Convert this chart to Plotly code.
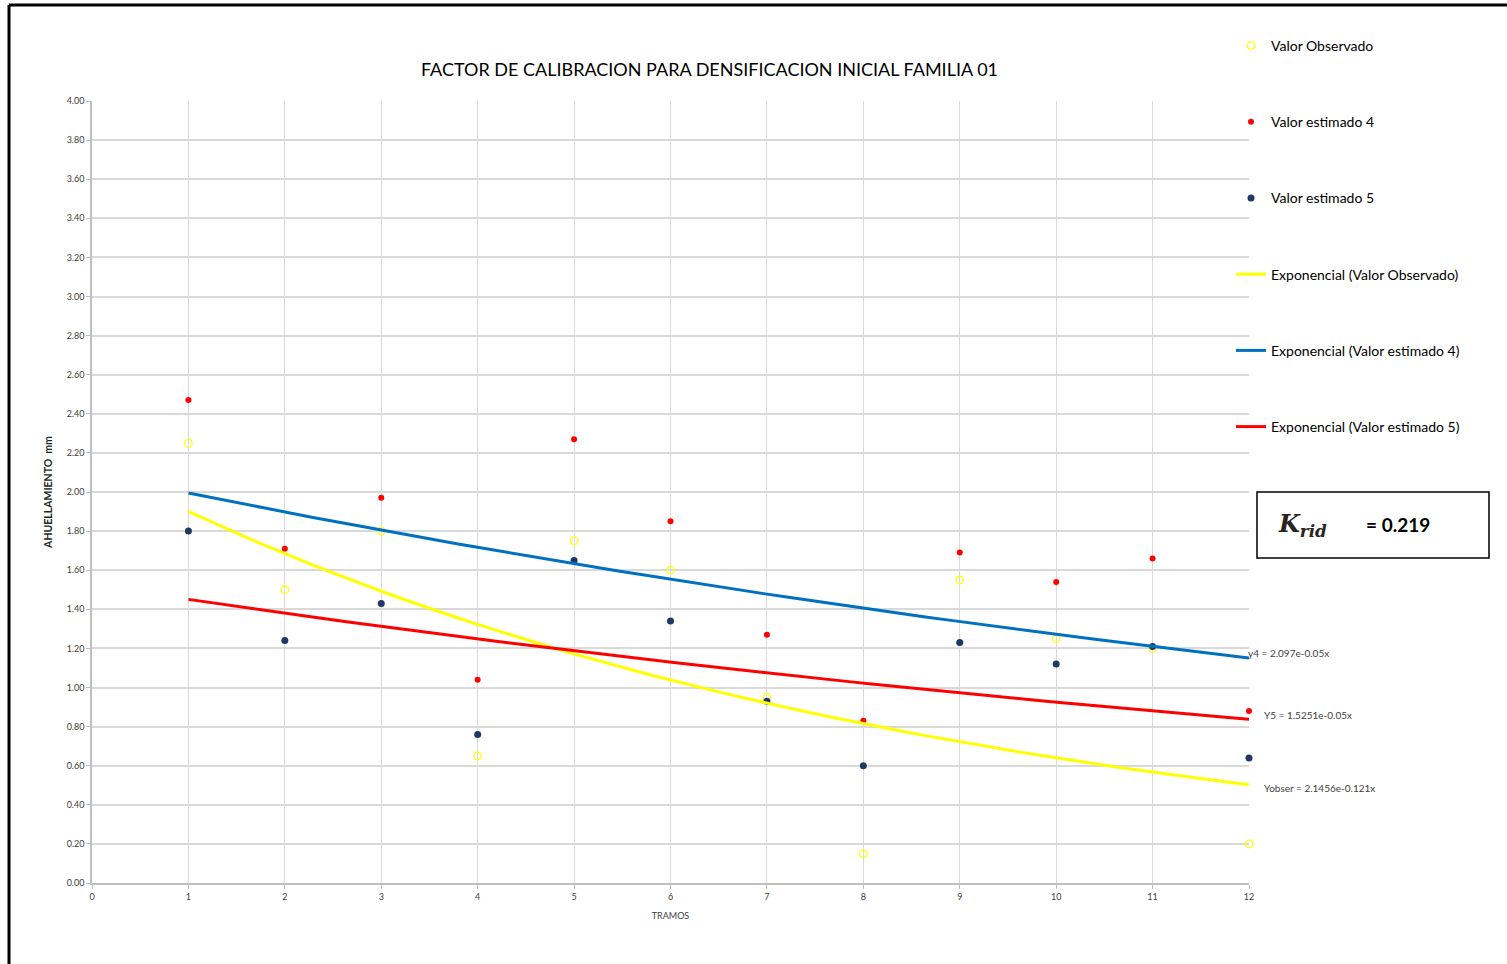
import numpy as np
import plotly.graph_objects as go

# Tramos (road sections)
tramos = [1, 2, 3, 4, 5, 6, 7, 8, 9, 10, 11, 12]

# Rutting values (mm) per section
valor_observado = [2.25, 1.50, 1.80, 0.65, 1.75, 1.60, 0.95, 0.15, 1.55, 1.25, 1.20, 0.20]
valor_estimado_4 = [2.47, 1.71, 1.97, 1.04, 2.27, 1.85, 1.27, 0.83, 1.69, 1.54, 1.66, 0.88]
valor_estimado_5 = [1.80, 1.24, 1.43, 0.76, 1.65, 1.34, 0.93, 0.60, 1.23, 1.12, 1.21, 0.64]

# Exponential trend coefficients  y = a * exp(b * x)
fit_names = ["Exponencial (Valor Observado)", "Exponencial (Valor estimado 4)", "Exponencial (Valor estimado 5)"]
fit_a = [2.1456, 2.097, 1.5251]
fit_b = [-0.121, -0.05, -0.05]
fit_colors = ["#ffff00", "#0070c0", "#ff0000"]
fit_labels = ["Yobser = 2.1456e-0.121x", "y4 = 2.097e-0.05x", "Y5 = 1.5251e-0.05x"]

k_rid = 0.219

FONT = "Lato"

# plot area in pixels
PL, PR, PT, PB = 92, 1249, 101, 883


def px(x):
    return (x - PL) / (PR - PL)


def py(y):
    return (PB - y) / (PB - PT)


fig = go.Figure()

fig.add_trace(go.Scatter(
    x=tramos, y=valor_observado, mode="markers", name="Valor Observado",
    legendgroup="g1", cliponaxis=False,
    marker=dict(symbol="circle-open", size=7.5, color="#ffff00", line=dict(width=1.3, color="#ffff00")),
))
fig.add_trace(go.Scatter(
    x=tramos, y=valor_estimado_4, mode="markers", name="Valor estimado 4",
    legendgroup="g2", cliponaxis=False,
    marker=dict(symbol="circle", size=6, color="#ff0000"),
))
fig.add_trace(go.Scatter(
    x=tramos, y=valor_estimado_5, mode="markers", name="Valor estimado 5",
    legendgroup="g3", cliponaxis=False,
    marker=dict(symbol="circle", size=7, color="#1f3864"),
))

xs = np.linspace(min(tramos), max(tramos), 60)
for i, (name, a, b, col) in enumerate(zip(fit_names, fit_a, fit_b, fit_colors)):
    fig.add_trace(go.Scatter(
        x=xs, y=a * np.exp(b * xs), mode="lines", name=name,
        legendgroup=f"f{i}", cliponaxis=False,
        line=dict(color=col, width=3),
        hoverinfo="skip",
    ))

# Equation labels at the right end of each trend line
label_pos = {"y4 = 2.097e-0.05x": (1246, 653),
             "Y5 = 1.5251e-0.05x": (1262, 715),
             "Yobser = 2.1456e-0.121x": (1262, 788)}
for txt in fit_labels:
    lx, ly = label_pos[txt]
    fig.add_annotation(x=px(lx), y=py(ly), xref="paper", yref="paper", text=txt, showarrow=False,
                       xanchor="left", yanchor="middle",
                       font=dict(family=FONT, size=10, color="#404040"))

# K_rid box
fig.add_shape(type="rect", xref="paper", yref="paper",
              x0=px(1257), x1=px(1489), y0=py(558), y1=py(492),
              line=dict(color="#000000", width=1.5), fillcolor="white")
fig.add_annotation(xref="paper", yref="paper", x=px(1276), y=py(525),
                   xanchor="left", yanchor="middle", showarrow=False,
                   text="<b><i>K</i></b><sub><b><i>rid</i></b></sub>",
                   font=dict(family="DejaVu Serif", size=24, color="#2a2420"))
fig.add_annotation(xref="paper", yref="paper", x=px(1364), y=py(524),
                   xanchor="left", yanchor="middle", showarrow=False,
                   text=f"<b>= {k_rid:.3f}</b>",
                   font=dict(family=FONT, size=19, color="#000000"))

# Outer frame lines (left and top)
fig.add_shape(type="line", xref="paper", yref="paper",
              x0=px(9), x1=px(9), y0=py(964), y1=py(5),
              line=dict(color="#000000", width=3))
fig.add_shape(type="line", xref="paper", yref="paper",
              x0=px(9), x1=px(1507), y0=py(5), y1=py(5),
              line=dict(color="#000000", width=3))

fig.update_layout(
    width=1507, height=964,
    margin=dict(l=PL, r=1507 - PR, t=PT, b=964 - PB),
    paper_bgcolor="white", plot_bgcolor="white",
    title=dict(text="FACTOR DE CALIBRACION PARA DENSIFICACION INICIAL FAMILIA 01",
               x=709.5 / 1507, xanchor="center", y=1 - 70 / 964, yanchor="middle",
               font=dict(family=FONT, size=18, color="#000000")),
    showlegend=True,
    legend=dict(x=px(1231), y=py(30), xanchor="left", yanchor="top",
                font=dict(family=FONT, size=14, color="#000000"),
                tracegroupgap=55, bgcolor="rgba(0,0,0,0)", itemwidth=30),
    xaxis=dict(range=[0, 12], dtick=1, tick0=0, showgrid=True, gridcolor="#d9d9d9", gridwidth=1,
               showline=True, linecolor="#bfbfbf", linewidth=1.5, ticks="outside", ticklen=4,
               tickcolor="#bfbfbf", zeroline=False,
               tickfont=dict(family=FONT, size=9, color="#404040"),
               title=dict(text="TRAMOS", font=dict(family=FONT, size=9, color="#404040"), standoff=12)),
    yaxis=dict(range=[0, 4], dtick=0.2, tick0=0, tickformat=".2f", showgrid=True,
               gridcolor="#d9d9d9", gridwidth=1.5,
               showline=True, linecolor="#bfbfbf", linewidth=1.5, ticks="outside", ticklen=4,
               tickcolor="#bfbfbf", zeroline=False,
               tickfont=dict(family=FONT, size=9, color="#404040"),
               title=dict(text="<b>AHUELLAMIENTO  mm</b>", font=dict(family=FONT, size=10.5, color="#262626"),
                          standoff=12)),
)

fig.write_html("out.html")
